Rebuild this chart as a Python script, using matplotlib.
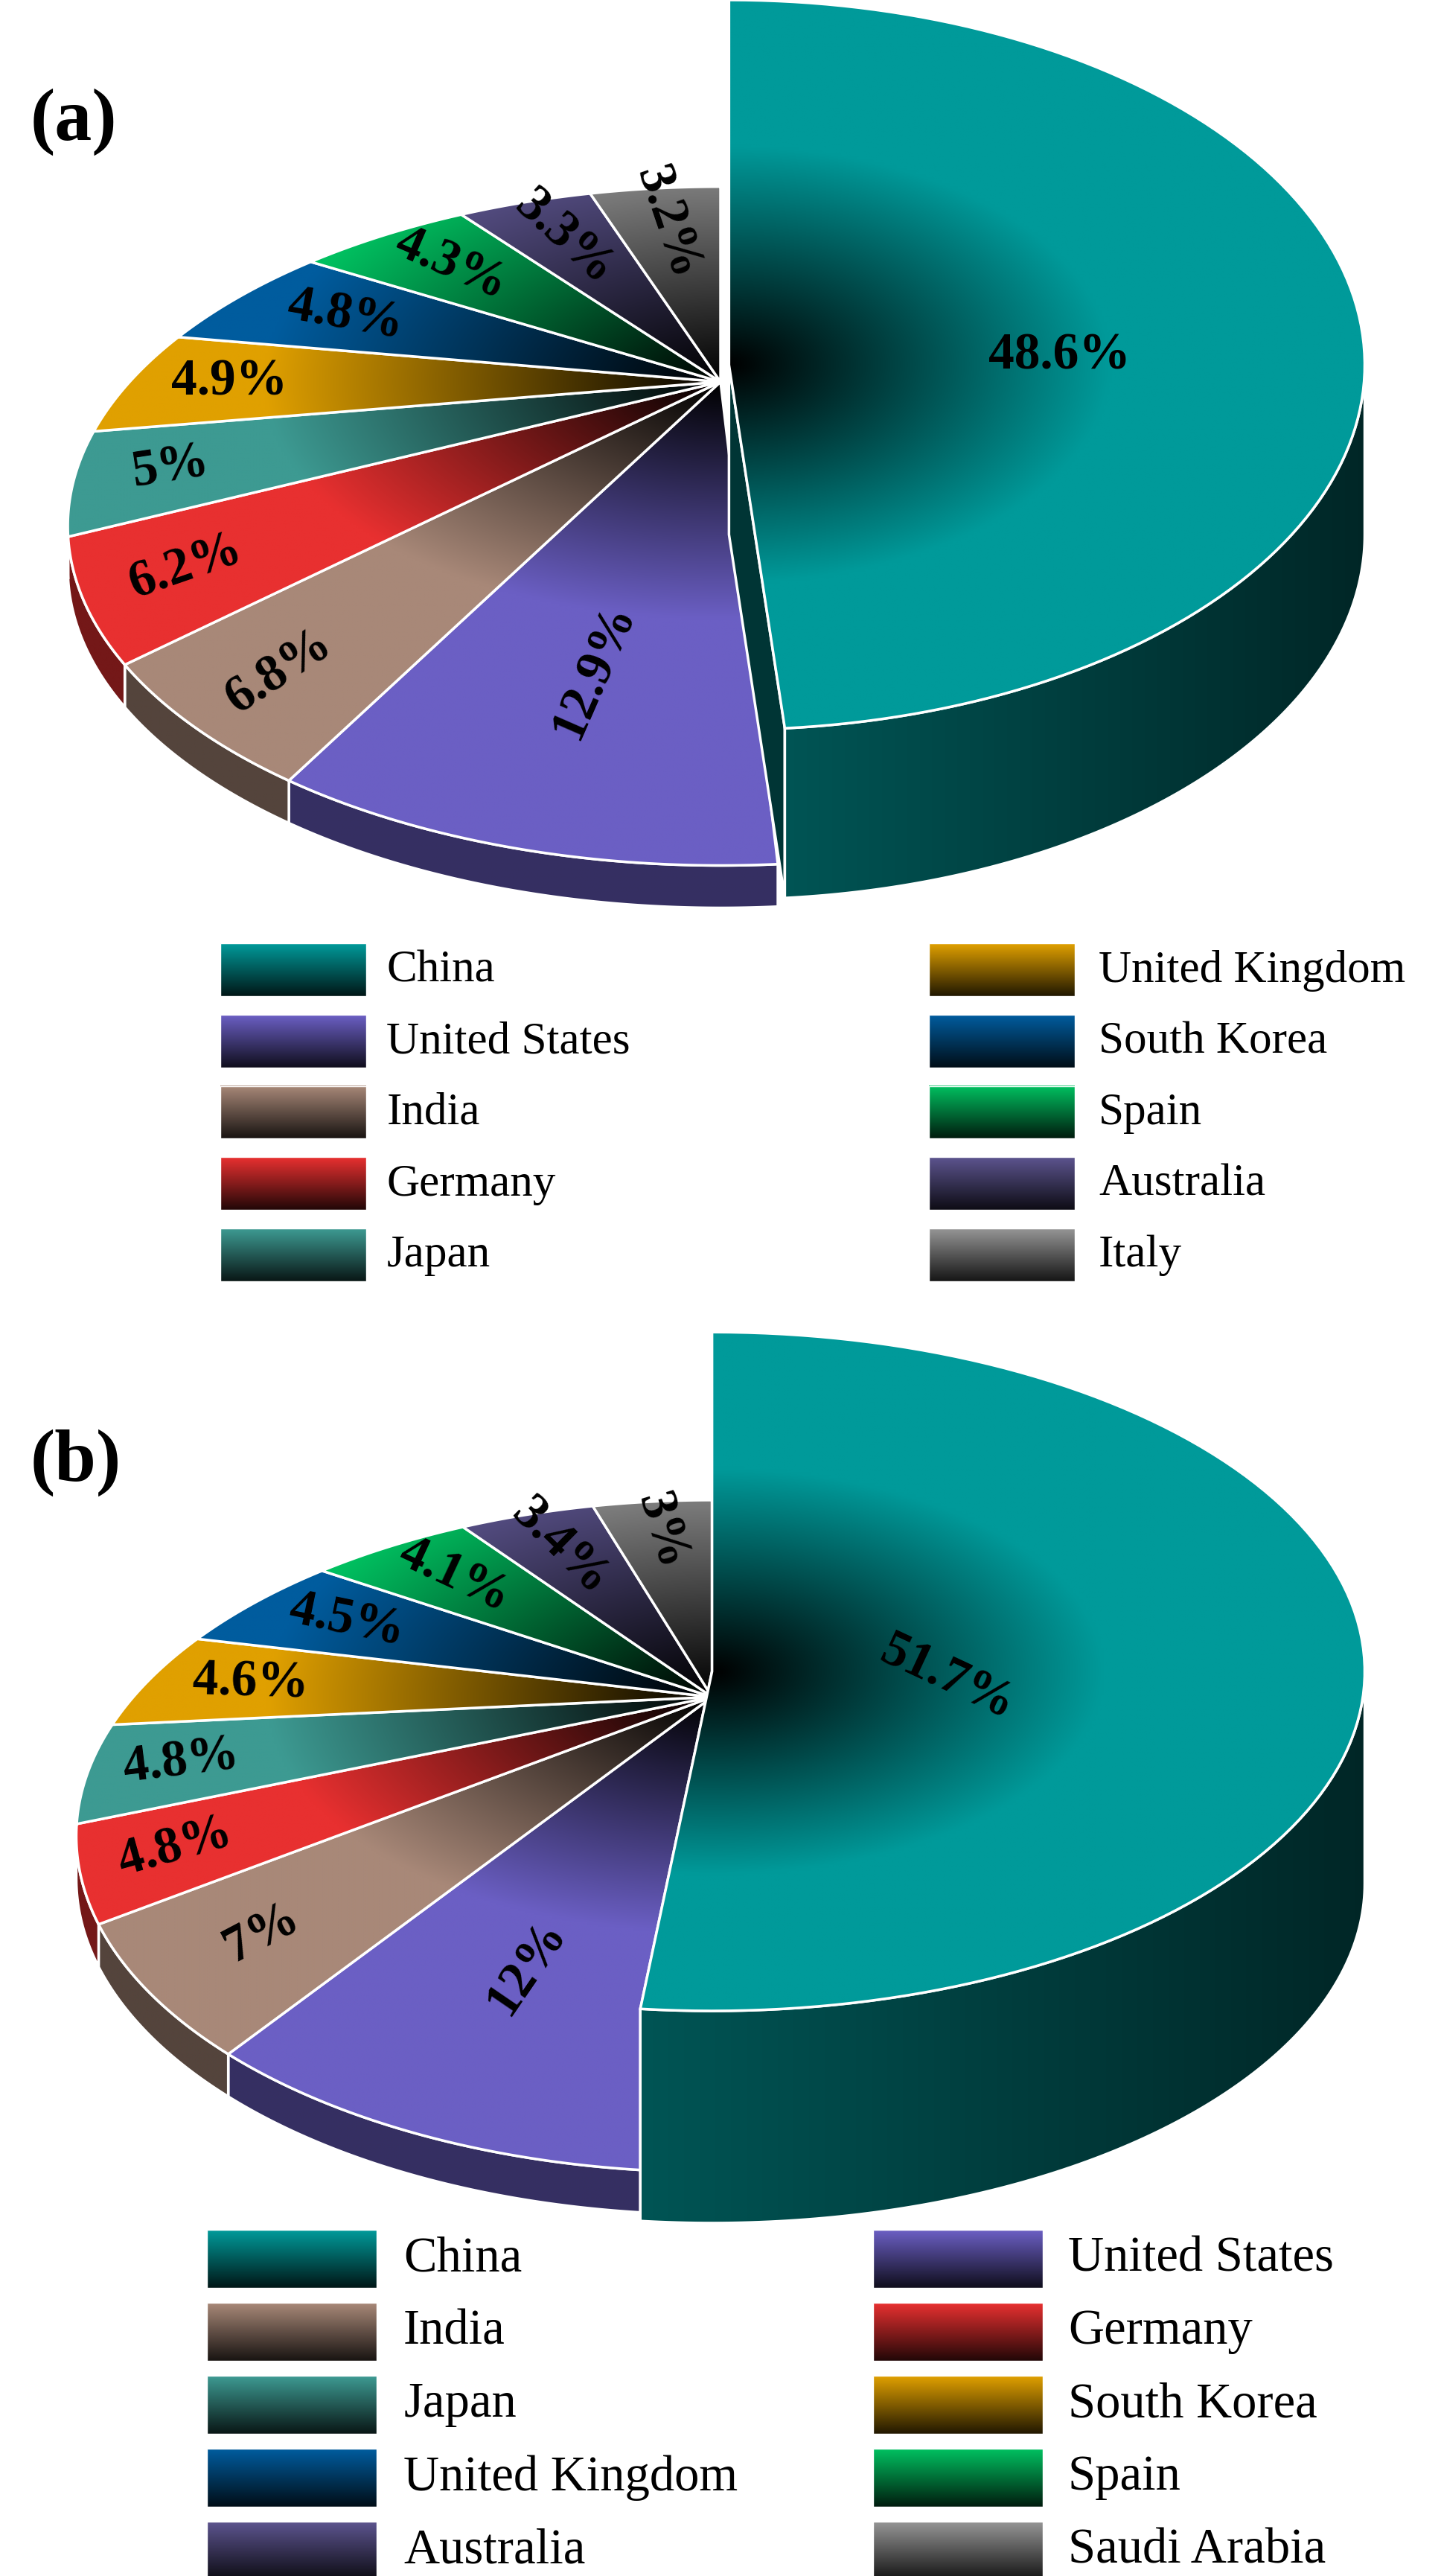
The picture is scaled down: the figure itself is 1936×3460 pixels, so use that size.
import numpy as np
import matplotlib
matplotlib.use('Agg')
import matplotlib.pyplot as plt
from matplotlib.patches import Polygon
from matplotlib.colors import to_rgb

# ---- data ----
countries_a = ["China", "United States", "India", "Germany", "Japan",
               "United Kingdom", "South Korea", "Spain", "Australia", "Italy"]
values_a = [48.6, 12.9, 6.8, 6.2, 5, 4.9, 4.8, 4.3, 3.3, 3.2]
labels_a = ["48.6%", "12.9%", "6.8%", "6.2%", "5%", "4.9%", "4.8%", "4.3%", "3.3%", "3.2%"]

countries_b = ["China", "United States", "India", "Germany", "Japan",
               "South Korea", "United Kingdom", "Spain", "Australia", "Saudi Arabia"]
values_b = [51.7, 12, 7, 4.8, 4.8, 4.6, 4.5, 4.1, 3.4, 3]
labels_b = ["51.7%", "12%", "7%", "4.8%", "4.8%", "4.6%", "4.5%", "4.1%", "3.4%", "3%"]

colors_a = ["#009a9a", "#6b5fc4", "#a88878", "#e83030", "#3d9a92",
            "#e0a000", "#005c9e", "#00c060", "#5c548e", "#959595"]
colors_b = ["#009a9a", "#6b5fc4", "#a88878", "#e83030", "#3d9a92",
            "#e0a000", "#005c9e", "#00c060", "#5c548e", "#959595"]

W, H = 850, 1518
fig = plt.figure(figsize=(19.36, 34.6), dpi=100)
ax = fig.add_axes([0, 0, 1, 1])
SERIF = ['Liberation Serif', 'DejaVu Serif']
zc = [1]


def arc(c, a, b, t1, t2, n=120):
    th = np.radians(np.linspace(t1, t2, n))
    return np.column_stack([c[0] + a * np.cos(th), c[1] - b * np.sin(th)])


def grad_fill(poly, func):
    z = zc[0]; zc[0] += 1
    patch = Polygon(poly, closed=True, facecolor='none', edgecolor='white',
                    lw=2.5, zorder=z + 0.5)
    ax.add_patch(patch)
    x0, y0 = poly.min(axis=0); x1, y1 = poly.max(axis=0)
    X, Y = np.meshgrid(np.linspace(x0, x1, 240), np.linspace(y0, y1, 240))
    img = np.clip(func(X, Y), 0, 1)
    im = ax.imshow(img, extent=(x0, x1, y1 + 0.01, y0), origin='upper',
                   zorder=z, interpolation='bilinear', aspect='auto')
    im.set_clip_path(patch)


def radial(col, ap, a, b, reach=0.6):
    c = np.array(to_rgb(col))
    def f(X, Y):
        r = np.sqrt(((X - ap[0]) / a) ** 2 + ((Y - ap[1]) / b) ** 2)
        k = np.clip(r / reach, 0, 1) ** 1.0
        return k[..., None] * c
    return f


def side(col, xa, xb, l=0.55, r=0.3):
    c = np.array(to_rgb(col))
    def f(X, Y):
        t = np.clip((X - xa) / max(xb - xa, 1), 0, 1)
        k = l + (r - l) * t
        return k[..., None] * c
    return f


def pie3d(values, colors, labels, cc, ca, cb, cdep, oc, apex, oa, ob, odep,
          china_rot, china_fr, fr):
    angs = [90]
    for v in values:
        angs.append(angs[-1] - 360 * v / sum(values))
    for i in range(1, len(values)):
        t1, t2 = angs[i], angs[i + 1]
        lo, hi = max(t2, -180), min(t1, 0)
        if hi > lo:
            top = arc(oc, oa, ob, hi, lo)
            poly = np.vstack([top, top[::-1] + [0, odep]])
            grad_fill(poly, side(colors[i], poly[:, 0].min(), poly[:, 0].max(), 0.5, 0.5))
    for i in range(1, len(values)):
        t1, t2 = angs[i], angs[i + 1]
        poly = np.vstack([[apex], arc(oc, oa, ob, t1, t2)])
        grad_fill(poly, radial(colors[i], apex, oa, ob, 0.7))
    t1, t2 = angs[0], angs[1]
    e = arc(cc, ca, cb, t2, t2, 1)[0]
    face = np.array([cc, e, e + [0, cdep], [cc[0], cc[1] + cdep]])
    grad_fill(face, side(colors[0], face[:, 0].min(), face[:, 0].max(), 0.35, 0.35))
    top = arc(cc, ca, cb, 0, t2)
    poly = np.vstack([top, top[::-1] + [0, cdep]])
    grad_fill(poly, side(colors[0], poly[:, 0].min(), poly[:, 0].max(), 0.55, 0.25))
    poly = np.vstack([[cc], arc(cc, ca, cb, t1, t2)])
    grad_fill(poly, radial(colors[0], cc, ca, cb, 0.6))
    for i, lab in enumerate(labels):
        m = (angs[i] + angs[i + 1]) / 2
        if i == 0:
            p = arc(cc, ca, cb, m, m, 1)[0]
            pos = np.array(cc) + china_fr * (p - cc)
            rot = china_rot
        else:
            p = arc(oc, oa, ob, m, m, 1)[0]
            pos = np.array(apex) + fr[i] * (p - apex)
            v = p - apex
            rot = np.degrees(np.arctan2(-v[1], v[0]))
            while rot > 90: rot -= 180
            while rot <= -90: rot += 180
        ax.text(pos[0], pos[1], lab, ha='center', va='center', rotation=rot,
                rotation_mode='anchor', fontsize=50, fontweight='bold',
                family=SERIF, zorder=200)


def swatch(x, y, w, h, col):
    c = np.array(to_rgb(col))
    t = np.linspace(0, 1, 60)
    k = 1 - 0.85 * t
    img = np.tile((k[:, None] * c)[:, None, :], (1, 2, 1))
    ax.imshow(img, extent=(x, x + w, y + h, y), origin='upper', aspect='auto',
              interpolation='bilinear', zorder=150)
    ax.add_patch(plt.Rectangle((x, y), w, h, fill=False, ec='white', lw=1, zorder=151))


fr_a = [0, 0.62, 0.84, 0.84, 0.85, 0.83, 0.78, 0.8, 0.8, 0.82]
pie3d(values_a, colors_a, labels_a, (430, 215), 375, 215, 100,
      (425, 310), (425, 225), 385, 200, 25, 0, 0.52, fr_a)
fr_b = [0, 0.62, 0.8, 0.85, 0.85, 0.82, 0.8, 0.8, 0.82, 0.85]
pie3d(values_b, colors_b, labels_b, (420, 985), 385, 200, 125,
      (420, 1082), (420, 1000), 375, 198, 25, -25, 0.36, fr_b)

for i, (name, col) in enumerate(zip(countries_a, colors_a)):
    cx, tx = (130, 228) if i < 5 else (548, 648)
    y = 556 + 42 * (i % 5)
    swatch(cx, y, 86, 31, col)
    ax.text(tx, y + 16, name, va='center', ha='left', fontsize=44, family=SERIF, zorder=160)
for i, (name, col) in enumerate(zip(countries_b, colors_b)):
    cx, tx = (122, 238) if i % 2 == 0 else (515, 630)
    y = 1314 + 43 * (i // 2)
    swatch(cx, y, 100, 34, col)
    ax.text(tx, y + 17, name, va='center', ha='left', fontsize=48, family=SERIF, zorder=160)

ax.text(18, 72, "(a)", fontsize=72, fontweight='bold', family=SERIF, va='center')
ax.text(18, 862, "(b)", fontsize=72, fontweight='bold', family=SERIF, va='center')

ax.set_xlim(0, W); ax.set_ylim(H, 0); ax.axis('off')
fig.savefig('out.png', dpi=100, facecolor='white')
